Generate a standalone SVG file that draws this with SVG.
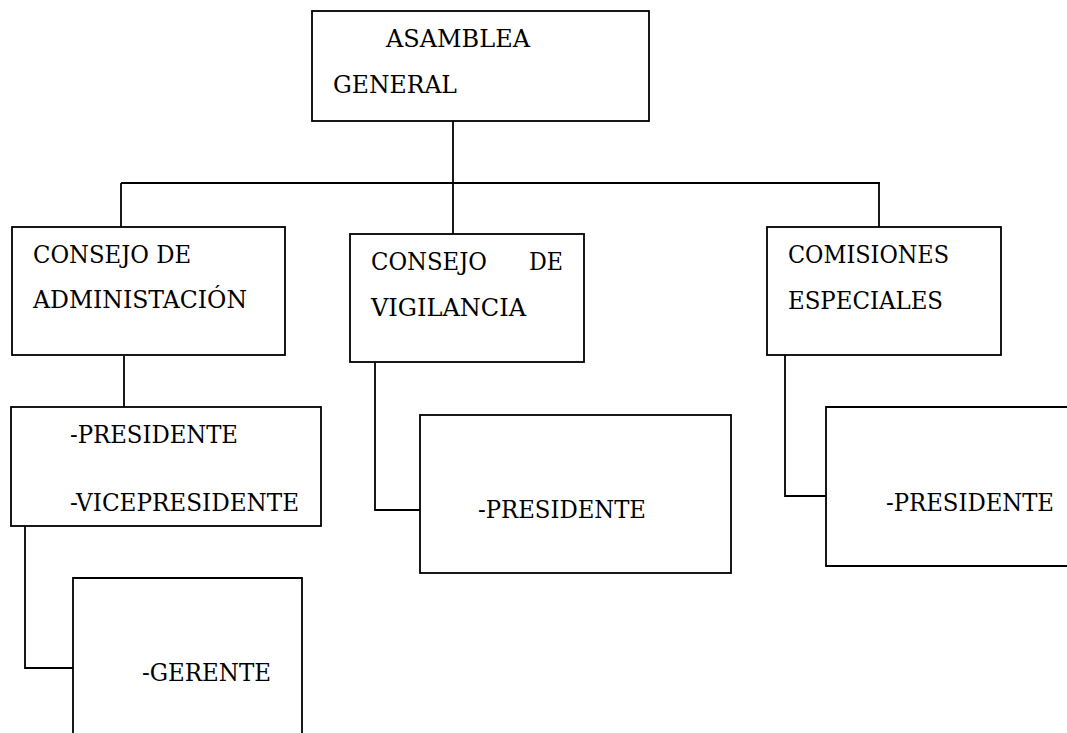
<svg xmlns="http://www.w3.org/2000/svg" width="1067" height="733" viewBox="0 0 1067 733">
<style>
.box{fill:#fff;stroke:#000;stroke-width:1.8}
.ln{fill:none;stroke:#000;stroke-width:1.8}
</style>
<rect width="1067" height="733" fill="#fff"/>
<g id="connectors">
<path class="ln" d="M453 121V234"/>
<path class="ln" d="M121 183H880"/>
<path class="ln" d="M121 183V227"/>
<path class="ln" d="M879 183V227"/>
<path class="ln" d="M124 356V407"/>
<path class="ln" d="M25 526V668H73"/>
<path class="ln" d="M375 362V510H420"/>
<path class="ln" d="M785 355V496H826"/>
</g>
<g font-family="'DejaVu Serif', 'Liberation Serif', serif" font-size="24" fill="#000">
<g id="asamblea">
<rect class="box" x="312" y="11" width="337" height="110"/>
<text x="386" y="47" textLength="144" lengthAdjust="spacingAndGlyphs">ASAMBLEA</text>
<text x="333" y="93" textLength="124" lengthAdjust="spacingAndGlyphs">GENERAL</text>
</g>
<g id="consejo-admin">
<rect class="box" x="12" y="227" width="273" height="128"/>
<text x="33" y="263" textLength="158" lengthAdjust="spacingAndGlyphs">CONSEJO DE</text>
<text x="33" y="308" textLength="214" lengthAdjust="spacingAndGlyphs">ADMINISTACIÓN</text>
</g>
<g id="consejo-vigilancia">
<rect class="box" x="350" y="234" width="234" height="128"/>
<text x="371" y="270" textLength="116" lengthAdjust="spacingAndGlyphs">CONSEJO</text>
<text x="529" y="270" textLength="34" lengthAdjust="spacingAndGlyphs">DE</text>
<text x="371" y="316" textLength="155" lengthAdjust="spacingAndGlyphs">VIGILANCIA</text>
</g>
<g id="comisiones">
<rect class="box" x="767" y="227" width="234" height="128"/>
<text x="788" y="263" textLength="161" lengthAdjust="spacingAndGlyphs">COMISIONES</text>
<text x="788" y="309" textLength="155" lengthAdjust="spacingAndGlyphs">ESPECIALES</text>
</g>
<g id="presidente-admin">
<rect class="box" x="11" y="407" width="310" height="119"/>
<text x="70" y="443" textLength="168" lengthAdjust="spacingAndGlyphs">-PRESIDENTE</text>
<text x="70" y="511" textLength="229" lengthAdjust="spacingAndGlyphs">-VICEPRESIDENTE</text>
</g>
<g id="gerente">
<path class="ln" d="M73 740V578H302V740"/>
<text x="142" y="681" textLength="129" lengthAdjust="spacingAndGlyphs">-GERENTE</text>
</g>
<g id="presidente-vigilancia">
<rect class="box" x="420" y="415" width="311" height="158"/>
<text x="478" y="518" textLength="168" lengthAdjust="spacingAndGlyphs">-PRESIDENTE</text>
</g>
<g id="presidente-comisiones">
<path class="ln" d="M1070 407H826V566H1070"/>
<text x="886" y="511" textLength="168" lengthAdjust="spacingAndGlyphs">-PRESIDENTE</text>
</g>
</g>
</svg>
